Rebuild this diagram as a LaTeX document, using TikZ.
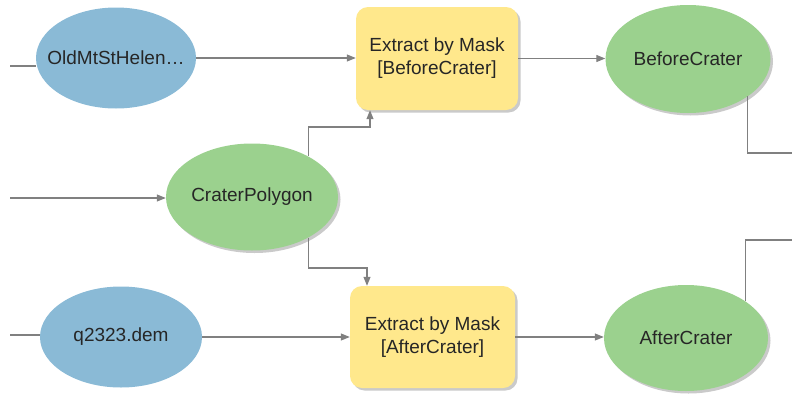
\documentclass[tikz,border=0pt]{standalone}
\usepackage{fontspec}
\setmainfont{Liberation Sans}
\usetikzlibrary{shapes.geometric,arrows.meta,shadows}
\definecolor{inblue}{RGB}{138,186,214}
\definecolor{outgreen}{RGB}{155,209,142}
\definecolor{toolyellow}{RGB}{255,232,140}
\definecolor{linegray}{RGB}{128,128,128}
\tikzset{
  shad/.style={drop shadow={shadow xshift=2.5pt,shadow yshift=-2.5pt,fill=black!35,opacity=0.6}},
  inputdata/.style={ellipse,fill=inblue,inner sep=0pt,font=\fontsize{19}{22}\selectfont,text=black!85},
  outdata/.style={ellipse,fill=outgreen,inner sep=0pt,font=\fontsize{19}{22}\selectfont,text=black!85,shad},
  toolbox/.style={rounded corners=12pt,fill=toolyellow,inner sep=0pt,align=center,font=\fontsize{19}{23}\selectfont,text=black!85,shad},
  conn/.style={draw=linegray,line width=1.1pt},
  arr/.style={conn,-{Triangle[length=9pt,width=7pt]}}
}
\begin{document}
\begin{tikzpicture}[x=1pt,y=-1pt]
\useasboundingbox (0,0) rectangle (792,394);
\node[inputdata,minimum width=160pt,minimum height=101pt] (old) at (116,58) {\makebox[0pt]{OldMtStHelen…}};
\node[toolbox,minimum width=162pt,minimum height=103pt] (ebm1) at (437,58.5) {Extract by Mask\\{}[BeforeCrater]};
\node[outdata,minimum width=165pt,minimum height=108pt] (before) at (688,59) {\makebox[0pt]{BeforeCrater}};
\node[outdata,minimum width=172pt,minimum height=107pt] (crater) at (252,197) {\makebox[0pt]{CraterPolygon}};
\node[inputdata,minimum width=162pt,minimum height=101pt] (q) at (121,337) {\makebox[0pt]{q2323.dem}};
\node[toolbox,minimum width=165pt,minimum height=102pt] (ebm2) at (432.5,337) {Extract by Mask\\{}[AfterCrater]};
\node[outdata,minimum width=164pt,minimum height=106pt] (after) at (686,338) {\makebox[0pt]{AfterCrater}};
\coordinate (inold) at (10,66);
\coordinate (incrater) at (10,198);
\coordinate (inq) at (10,335);
\coordinate (outbefore) at (792,153);
\coordinate (outafter) at (792,240);
\draw[conn] (inold) -- (old.west |- inold);
\draw[arr] (incrater) -- (crater.west |- incrater);
\draw[conn] (inq) -- (q.west |- inq);
\draw[arr] (old.east) -- (ebm1.west |- old.east);
\draw[arr] (q.east) -- (ebm2.west |- q.east);
\draw[arr] (ebm1.east) -- (before.west |- ebm1.east);
\draw[arr] (ebm2.east) -- (after.west |- ebm2.east);
\draw[arr] (crater.36) |- (370,127) -- (ebm1.south -| 370,0);
\draw[arr] (crater.-36) |- (367,268) -- (ebm2.north -| 367,0);
\draw[conn] (before.-32) |- (outbefore);
\draw[conn] (after.32) |- (outafter);
\end{tikzpicture}
\end{document}
